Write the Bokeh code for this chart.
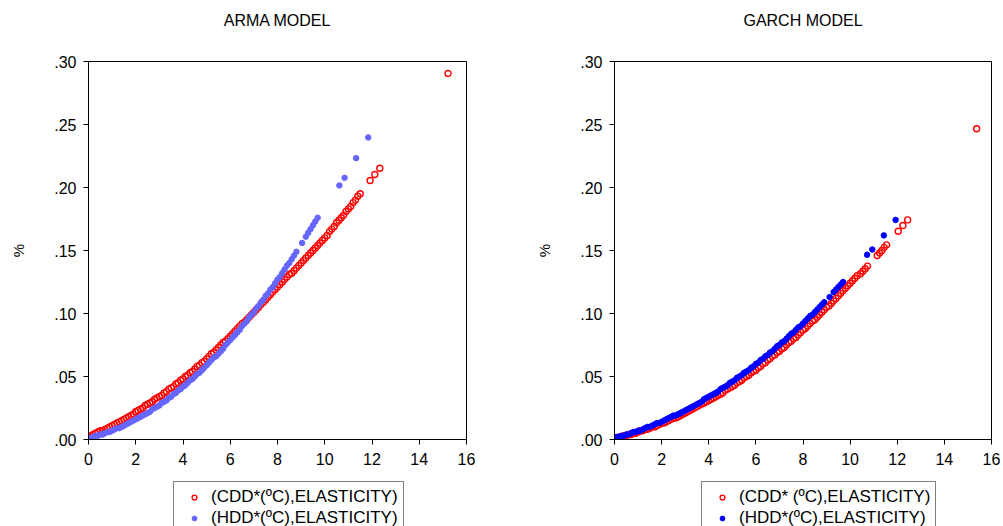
from bokeh.plotting import figure
from bokeh.layouts import row, column
from bokeh.models import Range1d, FixedTicker, Legend, LegendItem, Title
from bokeh.embed import file_html
from bokeh.resources import INLINE

FONT = "Liberation Sans"

# ---------------- data ----------------
y_ticks = [0.0, 0.05, 0.10, 0.15, 0.20, 0.25, 0.30]
y_tick_labels = [".00", ".05", ".10", ".15", ".20", ".25", ".30"]
x_ticks = [0, 2, 4, 6, 8, 10, 12, 14, 16]
x_tick_labels = ["0", "2", "4", "6", "8", "10", "12", "14", "16"]

arma_cdd_x = [0.0, 0.1, 0.2, 0.3, 0.4, 0.5, 0.6, 0.7, 0.8, 0.9,
              1.0, 1.1, 1.2, 1.3, 1.4, 1.5, 1.6, 1.7, 1.8, 1.9,
              2.0, 2.1, 2.2, 2.3, 2.4, 2.5, 2.6, 2.7, 2.8, 2.9,
              3.0, 3.1, 3.2, 3.3, 3.4, 3.5, 3.6, 3.7, 3.8, 3.9,
              4.0, 4.1, 4.2, 4.3, 4.4, 4.5, 4.6, 4.7, 4.8, 4.9,
              5.0, 5.1, 5.2, 5.3, 5.4, 5.5, 5.6, 5.7, 5.8, 5.9,
              6.0, 6.1, 6.2, 6.3, 6.4, 6.5, 6.6, 6.7, 6.8, 6.9,
              7.0, 7.1, 7.2, 7.3, 7.4, 7.5, 7.6, 7.7, 7.8, 7.9,
              8.0, 8.1, 8.2, 8.3, 8.4, 8.5, 8.6, 8.7, 8.8, 8.9,
              9.0, 9.1, 9.2, 9.3, 9.4, 9.5, 9.6, 9.7, 9.8, 9.9,
              10.0, 10.1, 10.2, 10.3, 10.4, 10.5, 10.6, 10.7, 10.8, 10.9,
              11.0, 11.1, 11.2, 11.3, 11.4, 11.5,
              11.92, 12.12, 12.33, 15.22]
arma_cdd_y = [0.002, 0.003, 0.004, 0.005, 0.006, 0.007, 0.007, 0.008, 0.009, 0.010,
              0.011, 0.012, 0.013, 0.014, 0.015, 0.016, 0.017, 0.018, 0.019, 0.020,
              0.022, 0.023, 0.024, 0.025, 0.027, 0.028, 0.029, 0.030, 0.032, 0.033,
              0.034, 0.035, 0.037, 0.038, 0.040, 0.041, 0.042, 0.044, 0.045, 0.047,
              0.048, 0.050, 0.051, 0.053, 0.054, 0.056, 0.058, 0.059, 0.061, 0.062,
              0.064, 0.066, 0.068, 0.069, 0.071, 0.073, 0.075, 0.077, 0.078, 0.080,
              0.082, 0.084, 0.086, 0.088, 0.090, 0.092, 0.093, 0.095, 0.097, 0.099,
              0.101, 0.103, 0.105, 0.107, 0.109, 0.111, 0.113, 0.115, 0.117, 0.119,
              0.121, 0.123, 0.125, 0.127, 0.129, 0.131, 0.132, 0.134, 0.136, 0.138,
              0.140, 0.142, 0.144, 0.146, 0.148, 0.150, 0.152, 0.154, 0.156, 0.158,
              0.160, 0.162, 0.165, 0.167, 0.169, 0.172, 0.174, 0.176, 0.178, 0.181,
              0.183, 0.185, 0.188, 0.190, 0.193, 0.195,
              0.2056, 0.2103, 0.2153, 0.2905]

arma_hdd_x = [0.0, 0.1, 0.2, 0.3, 0.4, 0.5, 0.6, 0.7, 0.8, 0.9,
              1.0, 1.1, 1.2, 1.3, 1.4, 1.5, 1.6, 1.7, 1.8, 1.9,
              2.0, 2.1, 2.2, 2.3, 2.4, 2.5, 2.6, 2.7, 2.8, 2.9,
              3.0, 3.1, 3.2, 3.3, 3.4, 3.5, 3.6, 3.7, 3.8, 3.9,
              4.0, 4.1, 4.2, 4.3, 4.4, 4.5, 4.6, 4.7, 4.8, 4.9,
              5.0, 5.1, 5.2, 5.3, 5.4, 5.5, 5.6, 5.7, 5.8, 5.9,
              6.0, 6.1, 6.2, 6.3, 6.4, 6.5, 6.6, 6.7, 6.8, 6.9,
              7.0, 7.1, 7.2, 7.3, 7.4, 7.5, 7.6, 7.7, 7.8, 7.9,
              8.0, 8.1, 8.2, 8.3, 8.4, 8.5, 8.6, 8.7, 8.8,
              9.04, 9.2, 9.3, 9.4, 9.5, 9.6, 9.7,
              10.62, 10.84, 11.33, 11.84]
arma_hdd_y = [0.001, 0.001, 0.002, 0.003, 0.003, 0.004, 0.004, 0.005, 0.006, 0.006,
              0.007, 0.008, 0.009, 0.009, 0.010, 0.011, 0.012, 0.013, 0.014, 0.015,
              0.016, 0.017, 0.018, 0.019, 0.020, 0.021, 0.022, 0.024, 0.025, 0.026,
              0.027, 0.029, 0.030, 0.031, 0.033, 0.034, 0.036, 0.037, 0.039, 0.040,
              0.042, 0.043, 0.045, 0.047, 0.048, 0.050, 0.052, 0.053, 0.055, 0.057,
              0.059, 0.061, 0.063, 0.065, 0.066, 0.068, 0.070, 0.072, 0.075, 0.077,
              0.079, 0.081, 0.083, 0.085, 0.087, 0.090, 0.092, 0.094, 0.097, 0.099,
              0.101, 0.104, 0.106, 0.109, 0.111, 0.114, 0.116, 0.119, 0.121, 0.124,
              0.127, 0.129, 0.132, 0.135, 0.138, 0.140, 0.143, 0.146, 0.149,
              0.156, 0.161, 0.164, 0.167, 0.170, 0.173, 0.176,
              0.2016, 0.2077, 0.2233, 0.2397]

garch_cdd_x = [0.0, 0.1, 0.2, 0.3, 0.4, 0.5, 0.6, 0.7, 0.8, 0.9,
               1.0, 1.1, 1.2, 1.3, 1.4, 1.5, 1.6, 1.7, 1.8, 1.9,
               2.0, 2.1, 2.2, 2.3, 2.4, 2.5, 2.6, 2.7, 2.8, 2.9,
               3.0, 3.1, 3.2, 3.3, 3.4, 3.5, 3.6, 3.7, 3.8, 3.9,
               4.0, 4.1, 4.2, 4.3, 4.4, 4.5, 4.6, 4.7, 4.8, 4.9,
               5.0, 5.1, 5.2, 5.3, 5.4, 5.5, 5.6, 5.7, 5.8, 5.9,
               6.0, 6.1, 6.2, 6.3, 6.4, 6.5, 6.6, 6.7, 6.8, 6.9,
               7.0, 7.1, 7.2, 7.3, 7.4, 7.5, 7.6, 7.7, 7.8, 7.9,
               8.0, 8.1, 8.2, 8.3, 8.4, 8.5, 8.6, 8.7, 8.8, 8.9,
               9.0, 9.1, 9.2, 9.3, 9.4, 9.5, 9.6, 9.7, 9.8, 9.9,
               10.0, 10.1, 10.2, 10.3,
               10.44, 10.54, 10.64, 10.74, 11.15, 11.25, 11.35, 11.45, 11.55,
               12.04, 12.24, 12.44, 15.37]
garch_cdd_y = [0.001, 0.001, 0.002, 0.002, 0.003, 0.003, 0.004, 0.004, 0.005, 0.005,
               0.006, 0.007, 0.007, 0.008, 0.008, 0.009, 0.010, 0.010, 0.011, 0.012,
               0.013, 0.013, 0.014, 0.015, 0.016, 0.017, 0.017, 0.018, 0.019, 0.020,
               0.021, 0.022, 0.023, 0.024, 0.025, 0.026, 0.027, 0.028, 0.029, 0.030,
               0.031, 0.032, 0.033, 0.034, 0.035, 0.036, 0.037, 0.039, 0.040, 0.041,
               0.042, 0.043, 0.045, 0.046, 0.047, 0.049, 0.050, 0.051, 0.053, 0.054,
               0.055, 0.057, 0.058, 0.060, 0.061, 0.063, 0.064, 0.066, 0.067, 0.069,
               0.070, 0.072, 0.073, 0.075, 0.077, 0.078, 0.080, 0.081, 0.083, 0.085,
               0.087, 0.088, 0.090, 0.092, 0.094, 0.095, 0.097, 0.099, 0.101, 0.103,
               0.105, 0.106, 0.108, 0.110, 0.112, 0.114, 0.116, 0.118, 0.120, 0.122,
               0.124, 0.126, 0.128, 0.130,
               0.1315, 0.1335, 0.1355, 0.1376, 0.146, 0.148, 0.150, 0.1525, 0.1545,
               0.1653, 0.1698, 0.1743, 0.2466]

garch_hdd_x = [0.0, 0.1, 0.2, 0.3, 0.4, 0.5, 0.6, 0.7, 0.8, 0.9,
               1.0, 1.1, 1.2, 1.3, 1.4, 1.5, 1.6, 1.7, 1.8, 1.9,
               2.0, 2.1, 2.2, 2.3, 2.4, 2.5, 2.6, 2.7, 2.8, 2.9,
               3.0, 3.1, 3.2, 3.3, 3.4, 3.5, 3.6, 3.7, 3.8, 3.9,
               4.0, 4.1, 4.2, 4.3, 4.4, 4.5, 4.6, 4.7, 4.8, 4.9,
               5.0, 5.1, 5.2, 5.3, 5.4, 5.5, 5.6, 5.7, 5.8, 5.9,
               6.0, 6.1, 6.2, 6.3, 6.4, 6.5, 6.6, 6.7, 6.8, 6.9,
               7.0, 7.1, 7.2, 7.3, 7.4, 7.5, 7.6, 7.7, 7.8, 7.9,
               8.0, 8.1, 8.2, 8.3, 8.4, 8.5, 8.6, 8.7, 8.8, 8.9,
               9.13, 9.3, 9.4, 9.5, 9.6, 9.7,
               10.72, 10.94, 11.43, 11.93]
garch_hdd_y = [0.001, 0.002, 0.002, 0.003, 0.003, 0.004, 0.004, 0.005, 0.006, 0.006,
               0.007, 0.007, 0.008, 0.009, 0.010, 0.010, 0.011, 0.012, 0.013, 0.013,
               0.014, 0.015, 0.016, 0.017, 0.018, 0.019, 0.019, 0.020, 0.021, 0.022,
               0.023, 0.024, 0.025, 0.026, 0.027, 0.028, 0.029, 0.030, 0.032, 0.033,
               0.034, 0.035, 0.036, 0.037, 0.038, 0.040, 0.041, 0.042, 0.043, 0.045,
               0.046, 0.047, 0.049, 0.050, 0.051, 0.053, 0.054, 0.055, 0.057, 0.058,
               0.060, 0.061, 0.063, 0.064, 0.066, 0.067, 0.069, 0.070, 0.072, 0.074,
               0.075, 0.077, 0.078, 0.080, 0.082, 0.084, 0.085, 0.087, 0.089, 0.090,
               0.092, 0.094, 0.096, 0.098, 0.099, 0.101, 0.103, 0.105, 0.107, 0.109,
               0.113, 0.117, 0.119, 0.121, 0.123, 0.125,
               0.1466, 0.1508, 0.162, 0.1743]

titles = ["ARMA MODEL", "GARCH MODEL"]
arma_labels = ["(CDD*(\u00baC),ELASTICITY)", "(HDD*(\u00baC),ELASTICITY)"]
garch_labels = ["(CDD* (\u00baC),ELASTICITY)", "(HDD*(\u00baC),ELASTICITY)"]

RED = "#ff0000"
ARMA_BLUE = "#6666ff"
GARCH_BLUE = "#0000ff"


def add_series(fig, cdd_x, cdd_y, hdd_x, hdd_y, hdd_color):
    r_cdd = fig.scatter(cdd_x, cdd_y, marker="circle", size=6, fill_color=None,
                        line_color=RED, line_width=1.4)
    r_hdd = fig.scatter(hdd_x, hdd_y, marker="circle", size=5.5,
                        fill_color=hdd_color, line_color=hdd_color, line_width=1)
    return r_cdd, r_hdd


def make_panel(title, cdd_x, cdd_y, hdd_x, hdd_y, hdd_color,
               width, border_left, border_right):
    p = figure(width=width, height=470,
               x_range=Range1d(0, 16), y_range=Range1d(0, 0.30),
               output_backend="svg", toolbar_location=None,
               min_border_left=border_left, min_border_right=border_right,
               min_border_top=61, min_border_bottom=31,
               title=title)
    p.title.align = "center"
    p.title.text_font = FONT
    p.title.text_font_size = "16px"
    p.title.text_font_style = "normal"
    p.title.text_color = "black"
    # blank spacer between the frame and the title, lifting the title up
    p.add_layout(Title(text=" ", text_font_size="14px", standoff=10,
                       text_font=FONT), "above")

    p.xgrid.visible = False
    p.ygrid.visible = False
    p.outline_line_color = "black"
    p.outline_line_width = 1
    p.background_fill_color = "white"
    p.border_fill_color = "white"

    p.xaxis.ticker = FixedTicker(ticks=x_ticks)
    p.xaxis.major_label_overrides = {t: l for t, l in zip(x_ticks, x_tick_labels)}
    p.yaxis.ticker = FixedTicker(ticks=y_ticks)
    p.yaxis.major_label_overrides = {t: l for t, l in zip(y_ticks, y_tick_labels)}

    for ax in (p.xaxis[0], p.yaxis[0]):
        ax.axis_line_color = "black"
        ax.axis_line_width = 1
        ax.major_tick_line_color = "black"
        ax.major_tick_in = 0
        ax.major_tick_out = 5
        ax.minor_tick_line_color = None
        ax.major_label_text_font = FONT
        ax.major_label_text_font_size = "16px"
        ax.major_label_text_color = "black"
    p.xaxis.major_label_standoff = 8
    p.yaxis.major_label_standoff = 7
    p.yaxis.axis_label = "%"
    p.yaxis.axis_label_text_font = FONT
    p.yaxis.axis_label_text_font_size = "15px"
    p.yaxis.axis_label_text_font_style = "normal"
    p.yaxis.axis_label_text_color = "black"
    p.yaxis.axis_label_standoff = 24

    add_series(p, cdd_x, cdd_y, hdd_x, hdd_y, hdd_color)
    return p


def make_legend(labels, cdd_x, cdd_y, hdd_x, hdd_y, hdd_color, width, left):
    # the series are drawn again here only to feed the legend; the y range
    # keeps them out of view
    q = figure(width=width, height=56, x_range=Range1d(0, 16), y_range=Range1d(10, 11),
               output_backend="svg", toolbar_location=None,
               min_border=0, min_border_left=0, min_border_right=0,
               min_border_top=0, min_border_bottom=0)
    q.axis.visible = False
    q.grid.visible = False
    q.outline_line_color = None
    q.background_fill_color = "white"
    q.border_fill_color = "white"
    r_cdd, r_hdd = add_series(q, cdd_x, cdd_y, hdd_x, hdd_y, hdd_color)
    legend = Legend(items=[LegendItem(label=labels[0], renderers=[r_cdd], index=0),
                           LegendItem(label=labels[1], renderers=[r_hdd], index=0)],
                    location=(left, -8), orientation="vertical",
                    padding=5, spacing=1, margin=0,
                    glyph_width=30, glyph_height=12, label_height=18,
                    label_standoff=2,
                    label_text_font=FONT, label_text_font_size="17px",
                    label_text_color="black",
                    border_line_color="black", border_line_width=1,
                    background_fill_color="white", background_fill_alpha=1)
    q.add_layout(legend)
    return q


p1 = make_panel(titles[0], arma_cdd_x, arma_cdd_y, arma_hdd_x, arma_hdd_y,
                ARMA_BLUE, 501, 88, 35)
p2 = make_panel(titles[1], garch_cdd_x, garch_cdd_y, garch_hdd_x, garch_hdd_y,
                GARCH_BLUE, 502, 113, 12)
l1 = make_legend(arma_labels, arma_cdd_x, arma_cdd_y, arma_hdd_x, arma_hdd_y,
                 ARMA_BLUE, 501, 173)
l2 = make_legend(garch_labels, garch_cdd_x, garch_cdd_y, garch_hdd_x, garch_hdd_y,
                 GARCH_BLUE, 502, 200)

layout = column(row(p1, p2, spacing=0), row(l1, l2, spacing=0), spacing=0)
open("out.html", "w").write(file_html(layout, INLINE))
